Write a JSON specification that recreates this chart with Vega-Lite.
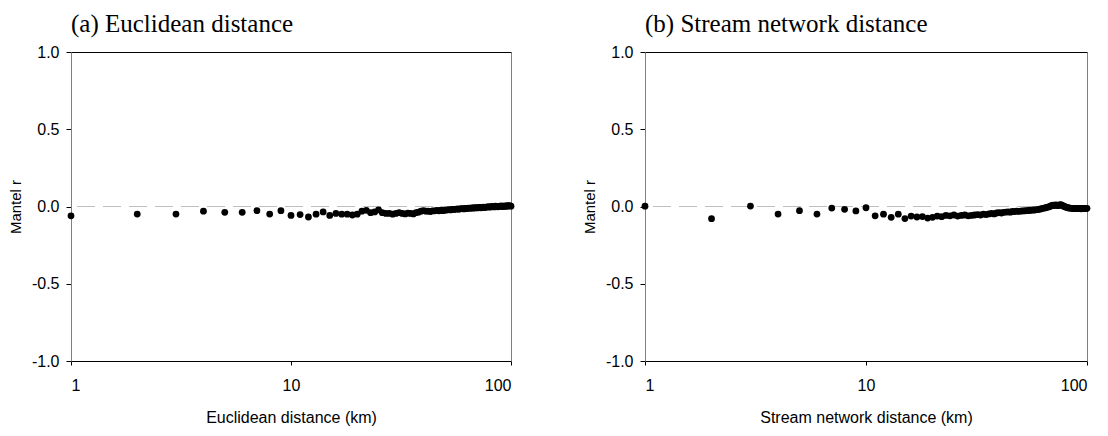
{
  "$schema": "https://vega.github.io/schema/vega-lite/v6.json",
  "padding": {"left": 7, "top": 11, "right": 5, "bottom": 5},
  "background": "#ffffff",
  "config": {
    "view": {"stroke": "#000000", "strokeWidth": 1},
    "axis": {"grid": false, "labelFont": "Liberation Sans", "titleFont": "Liberation Sans", "labelColor": "#000000", "titleColor": "#000000", "labelFontSize": 16, "titleFontWeight": "normal", "tickColor": "#000000"},
    "title": {"font": "Liberation Serif", "fontSize": 25, "fontWeight": "normal", "anchor": "start", "frame": "group", "baseline": "alphabetic", "offset": 7, "color": "#000000"}
  },
  "datasets": {
    "euc": [
      {"d":1,"r":-0.06},{"d":2,"r":-0.049},{"d":3,"r":-0.049},{"d":4,"r":-0.03},{"d":5,"r":-0.038},{"d":6,"r":-0.038},{"d":7,"r":-0.027},{"d":8,"r":-0.049},{"d":9,"r":-0.027},{"d":10,"r":-0.058},
      {"d":11,"r":-0.052},{"d":12,"r":-0.068},{"d":13,"r":-0.05},{"d":14,"r":-0.035},{"d":15,"r":-0.058},{"d":16,"r":-0.045},{"d":17,"r":-0.05},{"d":18,"r":-0.05},{"d":19,"r":-0.055},{"d":20,"r":-0.05},
      {"d":21,"r":-0.03},{"d":22,"r":-0.025},{"d":23,"r":-0.04},{"d":24,"r":-0.035},{"d":25,"r":-0.022},{"d":26,"r":-0.04},{"d":27,"r":-0.045},{"d":28,"r":-0.045},{"d":29,"r":-0.05},{"d":30,"r":-0.045},
      {"d":31,"r":-0.04},{"d":32,"r":-0.045},{"d":33,"r":-0.048},{"d":34,"r":-0.043},{"d":35,"r":-0.045},{"d":36,"r":-0.048},{"d":37,"r":-0.04},{"d":38,"r":-0.037},{"d":39,"r":-0.03},{"d":40,"r":-0.027},
      {"d":41,"r":-0.03},{"d":42,"r":-0.03},{"d":43,"r":-0.033},{"d":44,"r":-0.029},{"d":45,"r":-0.028},{"d":46,"r":-0.025},{"d":47,"r":-0.028},{"d":48,"r":-0.024},{"d":49,"r":-0.027},{"d":50,"r":-0.024},
      {"d":51,"r":-0.023},{"d":52,"r":-0.02},{"d":53,"r":-0.022},{"d":54,"r":-0.019},{"d":55,"r":-0.019},{"d":56,"r":-0.018},{"d":57,"r":-0.015},{"d":58,"r":-0.018},{"d":59,"r":-0.014},{"d":60,"r":-0.014},
      {"d":61,"r":-0.016},{"d":62,"r":-0.013},{"d":63,"r":-0.013},{"d":64,"r":-0.01},{"d":65,"r":-0.012},{"d":66,"r":-0.009},{"d":67,"r":-0.011},{"d":68,"r":-0.008},{"d":69,"r":-0.009},{"d":70,"r":-0.008},
      {"d":71,"r":-0.008},{"d":72,"r":-0.005},{"d":73,"r":-0.008},{"d":74,"r":-0.007},{"d":75,"r":-0.004},{"d":76,"r":-0.007},{"d":77,"r":-0.004},{"d":78,"r":-0.004},{"d":79,"r":-0.001},{"d":80,"r":-0.004},
      {"d":81,"r":-0.003},{"d":82,"r":0.0},{"d":83,"r":-0.001},{"d":84,"r":-0.003},{"d":85,"r":0.003},{"d":86,"r":0.0},{"d":87,"r":-0.002},{"d":88,"r":0.001},{"d":89,"r":0.0},{"d":90,"r":0.004},
      {"d":91,"r":0.001},{"d":92,"r":0.0},{"d":93,"r":0.004},{"d":94,"r":0.001},{"d":95,"r":0.002},{"d":96,"r":0.005},{"d":97,"r":0.002},{"d":98,"r":0.005},{"d":99,"r":0.004},{"d":100,"r":0.002}
    ],
    "stream": [
      {"d":1,"r":0.002},{"d":2,"r":-0.079},{"d":3,"r":0.003},{"d":4,"r":-0.049},{"d":5,"r":-0.027},{"d":6,"r":-0.049},{"d":7,"r":-0.01},{"d":8,"r":-0.018},{"d":9,"r":-0.029},{"d":10,"r":-0.008},
      {"d":11,"r":-0.06},{"d":12,"r":-0.05},{"d":13,"r":-0.07},{"d":14,"r":-0.05},{"d":15,"r":-0.078},{"d":16,"r":-0.062},{"d":17,"r":-0.068},{"d":18,"r":-0.065},{"d":19,"r":-0.075},{"d":20,"r":-0.07},
      {"d":21,"r":-0.062},{"d":22,"r":-0.066},{"d":23,"r":-0.058},{"d":24,"r":-0.06},{"d":25,"r":-0.055},{"d":26,"r":-0.062},{"d":27,"r":-0.058},{"d":28,"r":-0.055},{"d":29,"r":-0.06},{"d":30,"r":-0.058},
      {"d":31,"r":-0.055},{"d":32,"r":-0.052},{"d":33,"r":-0.055},{"d":34,"r":-0.05},{"d":35,"r":-0.052},{"d":36,"r":-0.048},{"d":37,"r":-0.045},{"d":38,"r":-0.048},{"d":39,"r":-0.042},{"d":40,"r":-0.04},
      {"d":41,"r":-0.042},{"d":42,"r":-0.038},{"d":43,"r":-0.036},{"d":44,"r":-0.035},{"d":45,"r":-0.037},{"d":46,"r":-0.032},{"d":47,"r":-0.033},{"d":48,"r":-0.03},{"d":49,"r":-0.031},{"d":50,"r":-0.03},
      {"d":51,"r":-0.028},{"d":52,"r":-0.029},{"d":53,"r":-0.026},{"d":54,"r":-0.027},{"d":55,"r":-0.024},{"d":56,"r":-0.025},{"d":57,"r":-0.022},{"d":58,"r":-0.023},{"d":59,"r":-0.02},{"d":60,"r":-0.02},
      {"d":61,"r":-0.017},{"d":62,"r":-0.015},{"d":63,"r":-0.012},{"d":64,"r":-0.01},{"d":65,"r":-0.008},{"d":66,"r":-0.005},{"d":67,"r":-0.003},{"d":68,"r":0.0},{"d":69,"r":0.005},{"d":70,"r":0.008},
      {"d":71,"r":0.006},{"d":72,"r":0.01},{"d":73,"r":0.008},{"d":74,"r":0.005},{"d":75,"r":0.01},{"d":76,"r":0.012},{"d":77,"r":0.008},{"d":78,"r":0.004},{"d":79,"r":0.0},{"d":80,"r":-0.003},
      {"d":81,"r":-0.006},{"d":82,"r":-0.008},{"d":83,"r":-0.01},{"d":84,"r":-0.01},{"d":85,"r":-0.012},{"d":86,"r":-0.012},{"d":87,"r":-0.013},{"d":88,"r":-0.012},{"d":89,"r":-0.014},{"d":90,"r":-0.013},
      {"d":91,"r":-0.012},{"d":92,"r":-0.014},{"d":93,"r":-0.013},{"d":94,"r":-0.015},{"d":95,"r":-0.012},{"d":96,"r":-0.014},{"d":97,"r":-0.013},{"d":98,"r":-0.012},{"d":99,"r":-0.013},{"d":100,"r":-0.012}
    ],
    "zero": [{"y": 0}]
  },
  "spacing": 66,
  "hconcat": [
    {
      "title": "(a) Euclidean distance",
      "width": 440,
      "height": 309,
      "layer": [
        {
          "data": {"name": "zero"},
          "mark": {"type": "rule", "color": "#c0c0c0", "strokeDash": [18, 8], "strokeWidth": 1},
          "encoding": {
            "y": {"field": "y", "type": "quantitative", "scale": {"domain": [-1, 1], "nice": false, "zero": false},
                  "axis": {"orient": "right", "domainColor": "#808080", "labels": false, "ticks": false, "title": null}}
          }
        },
        {
          "data": {"name": "euc"},
          "mark": {"type": "circle", "color": "#000000", "size": 46, "opacity": 1},
          "encoding": {
            "x": {"field": "d", "type": "quantitative", "scale": {"type": "log", "domain": [1, 100], "nice": false},
                  "axis": {"values": [1, 10, 100], "format": "d", "tickSize": 4, "labelPadding": 12, "title": "Euclidean distance (km)", "titleFontSize": 16, "titlePadding": 16, "domainColor": "#000000"}},
            "y": {"field": "r", "type": "quantitative", "scale": {"domain": [-1, 1], "nice": false, "zero": false},
                  "axis": {"values": [-1, -0.5, 0, 0.5, 1], "format": ".1f", "labelExpr": "replace(datum.label, '\u2212', '-')", "tickSize": 5, "labelPadding": 7, "domainColor": "#808080", "title": "Mantel r", "titleFontSize": 15, "titlePadding": 8}}
          }
        }
      ],
      "resolve": {"axis": {"y": "independent"}}
    },
    {
      "title": "(b) Stream network distance",
      "width": 442,
      "height": 309,
      "layer": [
        {
          "data": {"name": "zero"},
          "mark": {"type": "rule", "color": "#c0c0c0", "strokeDash": [18, 8], "strokeWidth": 1},
          "encoding": {
            "y": {"field": "y", "type": "quantitative", "scale": {"domain": [-1, 1], "nice": false, "zero": false},
                  "axis": {"orient": "right", "domainColor": "#808080", "labels": false, "ticks": false, "title": null}}
          }
        },
        {
          "data": {"name": "stream"},
          "mark": {"type": "circle", "color": "#000000", "size": 46, "opacity": 1},
          "encoding": {
            "x": {"field": "d", "type": "quantitative", "scale": {"type": "log", "domain": [1, 100], "nice": false},
                  "axis": {"values": [1, 10, 100], "format": "d", "tickSize": 4, "labelPadding": 12, "title": "Stream network distance (km)", "titleFontSize": 16, "titlePadding": 16, "domainColor": "#000000"}},
            "y": {"field": "r", "type": "quantitative", "scale": {"domain": [-1, 1], "nice": false, "zero": false},
                  "axis": {"values": [-1, -0.5, 0, 0.5, 1], "format": ".1f", "labelExpr": "replace(datum.label, '\u2212', '-')", "tickSize": 5, "labelPadding": 7, "domainColor": "#808080", "title": "Mantel r", "titleFontSize": 15, "titlePadding": 8}}
          }
        }
      ],
      "resolve": {"axis": {"y": "independent"}}
    }
  ]
}
